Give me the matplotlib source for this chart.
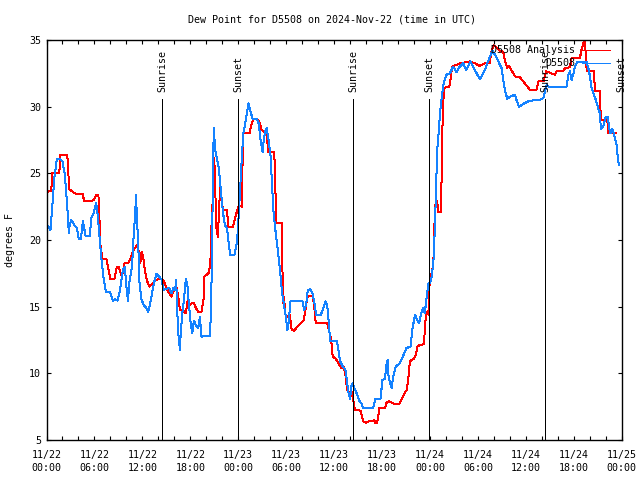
import matplotlib
matplotlib.use("Agg")
import matplotlib.pyplot as plt

# time axis: hours since 2024-11-22 00:00 UTC
analysis_hours = [
    0.1, 0.6, 0.7, 1.6, 1.75, 2.6, 2.8, 2.85, 3.3, 3.8, 4.55, 4.7, 5.6, 5.9,
    6.2, 6.5, 6.6, 6.75, 7.0, 7.5, 7.7, 8.0, 8.5, 8.8, 9.05, 9.45, 9.75, 10.25,
    10.6, 10.9, 11.3, 11.5, 11.75, 11.9, 12.1, 12.3, 12.6, 12.9, 13.35, 13.75,
    14.2, 14.6, 14.9, 15.25, 15.65, 15.85, 16.25, 16.5, 16.7, 17.05, 17.45,
    17.65, 17.85, 18.15, 18.45, 18.7, 19.0, 19.4, 19.65, 19.75, 20.05, 20.35,
    20.55, 20.65, 20.75, 20.85, 21.05, 21.25, 21.45, 21.6, 21.75, 21.95, 22.1,
    22.6, 22.75, 23.35, 23.55, 23.95, 24.15, 24.45, 24.6, 25.4, 25.5, 25.7,
    25.9, 26.3, 26.6, 26.95, 27.4, 27.55, 27.75, 28.5, 28.6, 28.75, 29.45,
    29.6, 29.75, 29.85, 30.15, 30.45, 30.7, 31.0, 31.4, 31.8, 32.2, 32.45,
    32.65, 33.05, 33.35, 33.55, 33.7, 35.15, 35.35, 35.62, 35.82, 36.22, 36.52,
    36.92, 37.22, 37.47, 37.62, 37.78, 38.18, 38.48, 38.6, 39.3, 39.65, 40.05,
    40.5, 40.8, 41.0, 41.2, 41.4, 41.67, 42.37, 42.57, 42.92, 43.22, 43.62,
    44.17, 44.42, 44.72, 45.08, 45.28, 45.48, 45.68, 45.98, 46.23, 46.43,
    46.64, 47.24, 47.51, 47.8, 47.92, 48.42, 48.54, 48.62, 48.91, 49.04, 49.33,
    49.45, 49.58, 49.75, 50.41, 50.57, 50.78, 51.75, 53.0, 53.63, 54.25, 54.87,
    55.5, 55.64, 55.93, 56.26, 56.76, 57.17, 57.38, 57.67, 57.92, 58.42, 58.71,
    59.25, 59.88, 60.51, 61.33, 61.62, 62.25, 62.52, 63.64, 63.85, 64.68, 64.9,
    65.52, 65.72, 66.77, 66.98, 67.38, 67.62, 68.53, 68.65, 69.3, 69.37, 70.2,
    70.32, 71.3,
]
analysis_dewpt = [
    23.6, 23.7, 25.0, 25.0, 26.4, 26.4, 24.4, 23.8, 23.6, 23.45, 23.45, 22.9,
    22.9, 23.0, 23.35, 23.35, 22.0, 19.6, 18.55, 18.55, 18.0, 17.05, 17.05,
    17.95, 17.95, 17.25, 18.25, 18.3, 18.75, 19.25, 19.6, 19.25, 18.3, 19.1,
    18.75, 17.75, 16.9, 16.5, 16.8, 17.0, 17.1, 17.0, 16.6, 16.1, 15.75, 16.1,
    16.5, 15.75, 14.75, 14.75, 14.5, 15.4, 15.1, 15.25, 15.3, 14.9, 14.6, 14.6,
    15.5, 17.25, 17.4, 17.55, 18.75, 21.1, 21.1, 26.4, 25.5, 21.0, 20.25,
    22.25, 24.25, 22.75, 22.25, 22.25, 21.0, 21.0, 21.5, 22.4, 22.6, 22.5,
    28.0, 28.0, 28.25, 28.75, 29.1, 29.1, 28.9, 28.25, 28.0, 28.0, 26.6, 26.6,
    25.25, 21.25, 21.25, 15.25, 15.75, 14.45, 14.25, 14.4, 13.25, 13.2, 13.5,
    13.75, 14.0, 14.9, 15.75, 15.8, 15.75, 14.75, 13.75, 13.75, 13.25, 12.6,
    11.25, 11.1, 10.75, 10.4, 10.45, 9.75, 8.75, 8.6, 8.6, 7.75, 7.25, 7.2,
    6.4, 6.3, 6.45, 6.4, 6.5, 6.25, 6.3, 7.4, 7.4, 7.8, 7.9, 7.8, 7.7, 7.7,
    8.0, 8.4, 8.75, 9.5, 10.9, 11.0, 11.1, 11.4, 12.0, 12.1, 12.2, 14.6, 14.4,
    16.5, 18.25, 20.5, 22.6, 22.9, 22.1, 22.1, 24.4, 29.0, 31.4, 31.5, 32.05,
    33.0, 33.25, 33.4, 33.25, 33.05, 33.25, 33.25, 34.0, 34.6, 34.5, 34.2,
    34.1, 33.5, 32.9, 33.05, 32.5, 32.25, 32.2, 31.75, 31.25, 31.25, 31.95,
    31.95, 32.65, 32.4, 32.65, 32.65, 32.9, 32.95, 33.65, 33.65, 34.3, 35.1,
    32.65, 32.65, 31.15, 31.15, 29.0, 29.0, 28.0, 28.0,
]

station_hours = [
    0.1, 0.5, 0.75, 1.0, 1.3, 1.65, 2.0, 2.3, 2.6, 2.8, 2.9, 3.1, 3.5, 3.8,
    4.05, 4.3, 4.55, 4.9, 5.4, 5.65, 5.9, 6.2, 6.35, 6.6, 6.85, 7.15, 7.45,
    7.95, 8.3, 8.6, 8.9, 9.2, 9.55, 9.8, 10.0, 10.2, 10.35, 10.7, 10.95, 11.1,
    11.2, 11.3, 11.5, 11.6, 11.9, 12.2, 12.5, 12.7, 12.9, 13.15, 13.35, 13.55,
    13.75, 14.1, 14.45, 14.6, 14.9, 15.35, 15.65, 15.85, 16.1, 16.25, 16.3,
    16.5, 16.7, 16.8, 17.0, 17.2, 17.45, 17.65, 17.85, 18.05, 18.25, 18.45,
    18.7, 19.0, 19.2, 19.4, 19.7, 20.45, 20.6, 20.75, 20.85, 20.95, 21.1,
    21.35, 21.6, 21.85, 22.1, 22.35, 22.6, 22.85, 23.0, 23.55, 23.85, 24.05,
    24.25, 24.5, 24.65, 24.9, 25.15, 25.3, 25.55, 25.8, 26.3, 26.55, 26.8,
    27.05, 27.2, 27.4, 27.55, 27.8, 28.05, 28.2, 28.4, 28.6, 28.9, 29.1, 29.3,
    29.5, 29.7, 29.95, 30.15, 30.3, 30.45, 30.55, 32.05, 32.25, 32.5, 32.7,
    33.0, 33.3, 33.55, 33.75, 34.35, 34.65, 34.95, 35.15, 35.35, 35.5, 36.35,
    36.55, 36.75, 37.1, 37.4, 37.6, 37.7, 37.85, 38.0, 38.15, 38.3, 38.5,
    38.65, 38.9, 39.15, 39.45, 39.65, 40.9, 41.15, 41.8, 42.05, 42.35, 42.55,
    42.7, 42.8, 43.0, 43.2, 43.4, 43.7, 44.2, 44.6, 45.05, 45.58, 45.78, 45.98,
    46.13, 46.38, 46.63, 46.95, 47.15, 47.35, 47.59, 47.8, 48.0, 48.21, 48.42,
    48.54, 48.71, 48.83, 48.96, 49.12, 49.25, 49.45, 49.66, 49.87, 50.08,
    50.49, 50.9, 51.32, 51.73, 52.15, 52.56, 53.06, 53.62, 54.24, 54.86, 55.5,
    55.84, 56.13, 56.67, 56.96, 57.17, 57.38, 57.67, 58.08, 58.62, 58.83,
    59.16, 59.66, 60.49, 61.65, 62.06, 62.19, 62.4, 62.6, 62.85, 63.02, 65.1,
    65.31, 65.52, 65.72, 65.93, 66.14, 66.43, 67.6, 67.82, 68.02, 68.23, 68.52,
    68.77, 69.1, 69.28, 69.39, 69.68, 69.88, 70.0, 70.26, 70.43, 70.6, 70.77,
    70.94, 71.14, 71.35, 71.47, 71.64,
]
station_dewpt = [
    21.1, 20.75, 22.75, 24.75, 26.1, 26.1, 25.9, 24.9, 22.5, 20.5, 21.1, 21.5,
    21.1, 20.9, 20.05, 20.05, 21.4, 20.3, 20.3, 21.75, 22.0, 22.75, 22.25,
    20.5, 18.75, 17.1, 16.1, 16.1, 15.45, 15.55, 15.45, 16.25, 17.75, 18.0,
    16.5, 15.4, 16.75, 18.0, 20.75, 21.9, 23.4, 21.9, 19.5, 17.0, 15.5, 15.1,
    14.9, 14.6, 15.0, 15.75, 16.5, 17.0, 17.45, 17.25, 17.0, 16.25, 16.3,
    16.4, 16.0, 16.4, 16.25, 17.0, 15.5, 13.0, 11.75, 13.0, 14.5, 15.5, 17.1,
    16.5, 15.0, 13.75, 13.0, 13.95, 13.6, 13.4, 14.25, 12.75, 12.8, 12.8,
    14.75, 20.5, 26.0, 28.4, 26.75, 26.1, 25.25, 23.5, 22.0, 21.1, 20.9, 19.5,
    18.9, 18.9, 19.9, 21.75, 24.0, 26.75, 28.0, 28.9, 29.75, 30.25, 29.6,
    29.1, 29.1, 28.75, 27.5, 26.6, 27.5, 28.2, 28.4, 27.5, 26.25, 24.6, 22.25,
    21.0, 19.5, 18.5, 17.25, 16.0, 15.25, 14.25, 13.25, 13.75, 14.75, 15.4,
    15.4, 14.75, 15.1, 16.25, 16.3, 16.0, 15.25, 14.4, 14.4, 14.9, 15.4, 15.0,
    13.75, 12.4, 12.4, 11.75, 10.9, 10.5, 10.3, 9.5, 9.0, 8.4, 8.1, 9.0, 9.25,
    8.95, 8.75, 8.4, 7.95, 7.7, 7.4, 7.4, 8.05, 8.05, 9.5, 9.6, 10.6, 11.0,
    9.9, 9.25, 8.9, 9.75, 10.5, 10.75, 11.25, 11.9, 12.0, 13.25, 13.9, 14.4,
    14.0, 13.75, 14.6, 14.9, 14.5, 15.75, 16.75, 16.75, 17.25, 18.25, 19.75,
    22.75, 25.25, 27.25, 28.25, 29.5, 30.6, 31.6, 32.1, 32.4, 32.5, 33.0,
    32.6, 33.0, 33.25, 32.75, 33.4, 32.75, 32.05, 32.75, 33.75, 34.2, 33.9,
    33.25, 32.9, 32.0, 31.25, 30.6, 30.75, 30.9, 30.5, 30.0, 30.2, 30.45, 30.5,
    30.6, 30.65, 31.15, 31.65, 31.5, 31.5, 31.5, 32.4, 32.65, 32.0, 32.4,
    33.0, 33.35, 33.35, 32.9, 32.3, 31.4, 30.9, 30.5, 29.8, 29.5, 28.3, 28.5,
    29.0, 29.2, 29.2, 28.4, 28.0, 28.35, 28.15, 27.65, 27.15, 26.4, 25.65,
]

# sunrise / sunset marks (hours since start)
event_hours = [14.49, 24.0, 38.4, 47.9, 62.4, 72.0]
event_labels = ["Sunrise", "Sunset", "Sunrise", "Sunset", "Sunrise", "Sunset"]

tick_hours = list(range(0, 73, 6))
tick_labels = [
    "11/22\n00:00", "11/22\n06:00", "11/22\n12:00", "11/22\n18:00",
    "11/23\n00:00", "11/23\n06:00", "11/23\n12:00", "11/23\n18:00",
    "11/24\n00:00", "11/24\n06:00", "11/24\n12:00", "11/24\n18:00",
    "11/25\n00:00",
]
y_ticks = [5, 10, 15, 20, 25, 30, 35]

RED = "#ff0000"
BLUE = "#1482ff"
FONT = "DejaVu Sans Mono"
FS = 7.2
LW = 0.72  # ~1 px

plt.rcParams["font.family"] = FONT
plt.rcParams["font.size"] = FS

fig = plt.figure(figsize=(6.4, 4.8), dpi=100)
ax = fig.add_axes([46.5 / 640, 40 / 480, 575.2 / 640, 400 / 480])

ax.plot(analysis_hours, analysis_dewpt, color=RED, lw=LW, antialiased=False)
ax.plot(station_hours, station_dewpt, color=BLUE, lw=LW, antialiased=False)

for h, lab in zip(event_hours, event_labels):
    ax.vlines(h, 5, 30.55, color="black", lw=LW, antialiased=False)
    ax.text(h, 31.1, lab, rotation=90, ha="center", va="bottom",
            fontsize=FS, clip_on=False)

ax.set_xlim(0, 72)
ax.set_ylim(5, 35)
ax.set_xticks(tick_hours)
ax.set_xticklabels(tick_labels, linespacing=1.35)
ax.set_xticks(list(range(0, 73, 2)), minor=True)
ax.set_yticks(y_ticks)
ax.tick_params(which="both", direction="in", top=True, right=True,
               length=3, width=0.8, labelsize=FS)
ax.tick_params(axis="x", pad=7.5)
ax.tick_params(axis="y", pad=4)
for s in ax.spines.values():
    s.set_linewidth(1.0)

# legend drawn by hand, gnuplot style
leg_y = [0.975, 0.943]
leg_txt = ["D5508 Analysis", "D5508"]
leg_col = [RED, BLUE]
for yy, t, c in zip(leg_y, leg_txt, leg_col):
    ax.text(0.9188, yy, t, transform=ax.transAxes, ha="right", va="center",
            fontsize=FS)
    ax.plot([0.931, 0.9797], [yy, yy], transform=ax.transAxes, color=c,
            lw=LW, antialiased=False)

fig.text(332 / 640, 1 - 20 / 480, "Dew Point for D5508 on 2024-Nov-22 (time in UTC)",
         ha="center", va="center", fontsize=FS)
fig.text(10 / 640, 0.5, "degrees F", rotation=90, ha="center", va="center",
         fontsize=FS)

fig.savefig("out.png", dpi=100)
